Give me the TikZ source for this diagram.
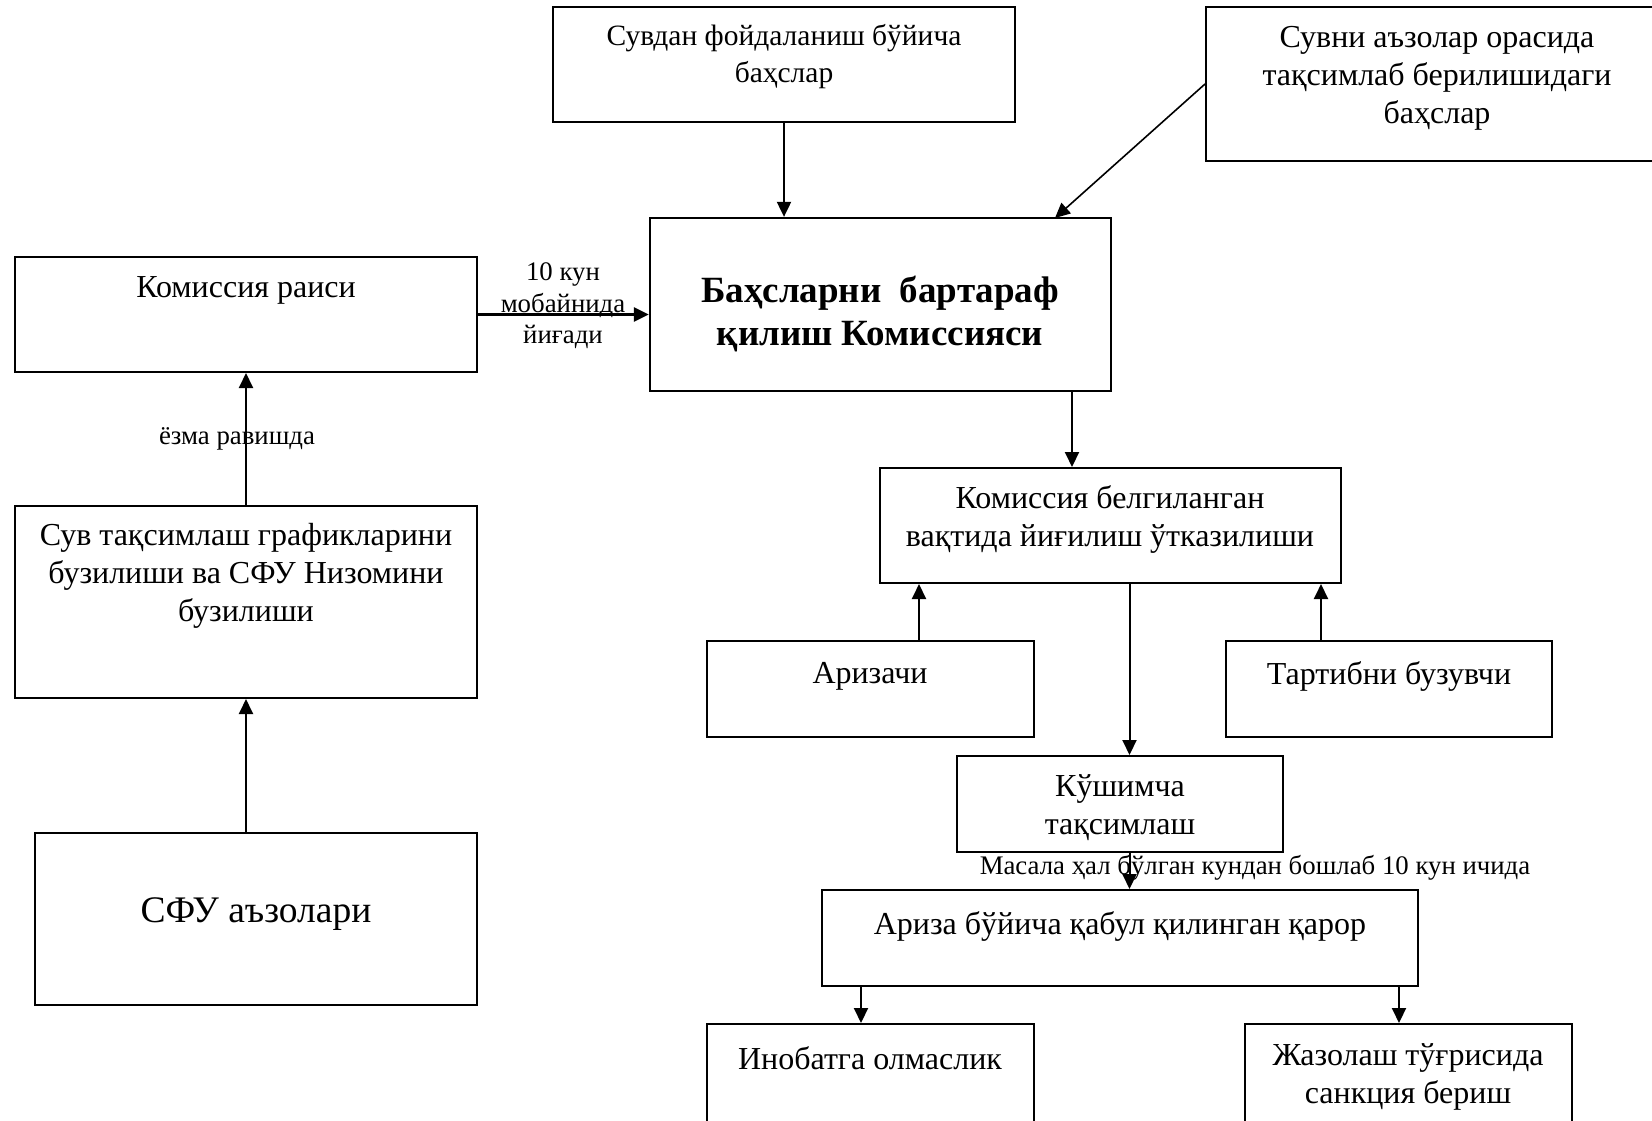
\documentclass[tikz,border=0pt]{standalone}
\usepackage{fontspec}
\setmainfont{Liberation Serif}
\usetikzlibrary{arrows.meta}
\begin{document}
\begin{tikzpicture}[x=1pt,y=-1pt,
  box/.style={draw, line width=2pt, rectangle, inner sep=0pt},
  txt/.style={align=center, inner sep=0pt, font=\fontsize{32}{38}\selectfont},
  lbl/.style={align=center, inner sep=0pt, font=\fontsize{26.8}{31.5}\selectfont},
  arr/.style={line width=2pt, -{Triangle[length=15pt,width=14pt]}}]
\useasboundingbox (0,0) rectangle (1652,1120);
\clip (0,0) rectangle (1652,1120);
% boxes
\node[box, minimum width=462pt, minimum height=115pt] (b1) at (784,64.5) {};
\node[box, minimum width=474pt, minimum height=154pt] (b2) at (1443,84) {};
\node[box, line width=2.3pt, minimum width=461pt, minimum height=173pt] (main) at (880.5,304.5) {};
\node[box, minimum width=462pt, minimum height=115pt] (raisi) at (246,314.5) {};
\node[box, minimum width=462pt, minimum height=192pt] (b3) at (246,602) {};
\node[box, minimum width=442pt, minimum height=172pt] (sfu) at (256,919) {};
\node[box, minimum width=461pt, minimum height=115pt] (b4) at (1110.5,525.5) {};
\node[box, minimum width=327pt, minimum height=96pt] (ariz) at (870.5,689) {};
\node[box, minimum width=326pt, minimum height=96pt] (tart) at (1389,689) {};
\node[box, minimum width=326pt, minimum height=96pt] (kush) at (1120,804) {};
\node[box, minimum width=596pt, minimum height=96pt] (qaror) at (1120,938) {};
\node[box, minimum width=327pt, minimum height=126pt] (inob) at (870.5,1087) {};
\node[box, minimum width=327pt, minimum height=126pt] (jaz) at (1408.5,1087) {};
% texts
\node[txt, font=\fontsize{29.5}{37}\selectfont] (t1) at (784,57) {Сувдан фойдаланиш бўйича\\баҳслар};
\node[txt] (t2) at (1437,78) {Сувни аъзолар орасида\\тақсимлаб берилишидаги\\баҳслар};
\node[txt, font=\bfseries\fontsize{37}{43}\selectfont] (tmain) at (880,314) {Баҳсларни~~бартараф\\қилиш Комиссияси};
\node[txt] (traisi) at (246,290) {Комиссия раиси};
\node[txt] (t3) at (246,576) {Сув тақсимлаш графикларини\\бузилиши ва СФУ Низомини\\бузилиши};
\node[txt, font=\fontsize{37.5}{40}\selectfont] (tsfu) at (256,914) {СФУ аъзолари};
\node[txt] (t4) at (1110,519) {Комиссия белгиланган\\вақтида йиғилиш ўтказилиши};
\node[txt] (tariz) at (870,676) {Аризачи};
\node[txt] (ttart) at (1389,676) {Тартибни бузувчи};
\node[txt] (tkush) at (1120,808) {Кўшимча\\тақсимлаш};
\node[txt] (tqaror) at (1120,926) {Ариза бўйича қабул қилинган қарор};
\node[txt] (tinob) at (870,1058) {Инобатга олмаслик};
\node[txt] (tjaz) at (1408,1077) {Жазолаш тўғрисида\\санкция бериш};
% labels
\node[lbl] (l10) at (563,306) {10 кун\\мобайнида\\йиғади};
\node[lbl] (lyozma) at (237,439) {ёзма равишда};
\node[lbl] (lmasala) at (1255,868) {Масала ҳал бўлган кундан бошлаб 10 кун ичида};
% connector x positions
\coordinate (xa) at (1072,0);
\coordinate (xb) at (919,0);
\coordinate (xc) at (1321,0);
\coordinate (xd) at (1129.5,0);
\coordinate (xe) at (861,0);
\coordinate (xf) at (1399,0);
\coordinate (dtip) at (1055,218);
% connectors
\draw[arr] (b1.south) -- (b1.south |- main.north);
\draw[arr, line width=1.6pt] (b2.west) -- (dtip);
\draw[arr, line width=2.8pt] (raisi.east) -- (raisi.east -| main.west);
\draw[arr] (b3.north) -- (raisi.south);
\draw[arr] (sfu.north -| b3.south) -- (b3.south);
\draw[arr] (main.south -| xa) -- (b4.north -| xa);
\draw[arr] (ariz.north -| xb) -- (b4.south -| xb);
\draw[arr] (tart.north -| xc) -- (b4.south -| xc);
\draw[arr] (b4.south -| xd) -- (kush.north -| xd);
\draw[arr] (kush.south -| xd) -- (qaror.north -| xd);
\draw[arr] (qaror.south -| xe) -- (inob.north -| xe);
\draw[arr] (qaror.south -| xf) -- (jaz.north -| xf);
\end{tikzpicture}
\end{document}
